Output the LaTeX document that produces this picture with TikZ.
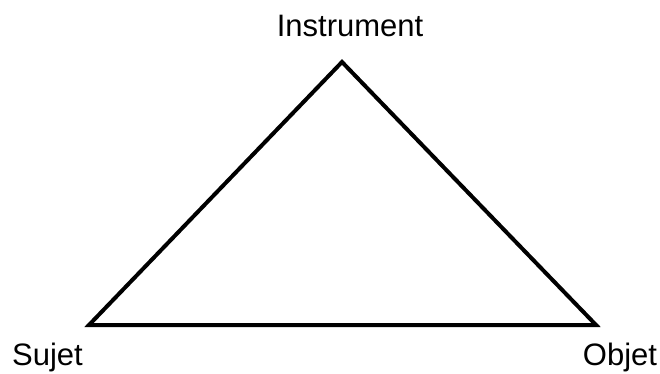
\documentclass[tikz,border=0pt]{standalone}
\usepackage{fontspec}
\setmainfont{Liberation Sans}
\begin{document}
\begin{tikzpicture}[x=1pt,y=-1pt,
  lbl/.style={anchor=base,inner sep=0pt,font=\fontsize{31}{36}\selectfont},
  edge/.style={line width=4pt,line join=miter}]
\useasboundingbox (0,0) rectangle (660,374);
\coordinate (top) at (342,62);
\coordinate (left) at (89,325);
\coordinate (right) at (596,325);
\draw[edge] (top) -- (right) -- (left) -- cycle;
\node[lbl] (instr) at (350,37) {Instrument};
\node[lbl] (sujet) at (47.5,365) {Sujet};
\node[lbl] (objet) at (620,365) {Objet};
\end{tikzpicture}
\end{document}
